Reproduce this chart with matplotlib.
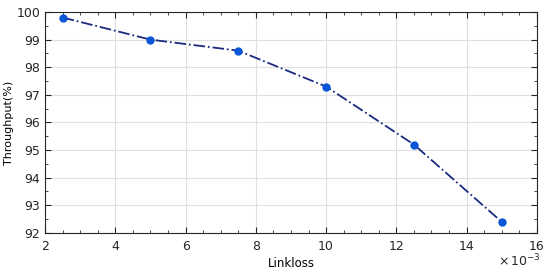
import matplotlib.pyplot as plt
from matplotlib.ticker import AutoMinorLocator

linkloss = [2.5, 5, 7.5, 10, 12.5, 15]  # x 10^-3
throughput = [99.8, 99.0, 98.6, 97.3, 95.2, 92.4]

fig = plt.figure(figsize=(5.5, 2.73), dpi=100)
ax = fig.add_axes([0.082, 0.147, 0.894, 0.809])

ax.plot(linkloss, throughput, linestyle='-.', color='#1a2a80', linewidth=1.3,
        marker='o', markersize=5, markerfacecolor='#0a55d8', markeredgecolor='#0a55d8')

ax.set_xlim(2, 16)
ax.set_ylim(92, 100)
ax.set_xticks([2, 4, 6, 8, 10, 12, 14, 16])
ax.set_yticks(range(92, 101))
ax.xaxis.set_minor_locator(AutoMinorLocator(4))
ax.yaxis.set_minor_locator(AutoMinorLocator(2))
ax.grid(True, which='major', color='#e0e0e0', linewidth=0.8)
ax.set_axisbelow(True)
ax.tick_params(which='both', direction='in', top=True, right=True, labelsize=9, colors='#262626')
ax.tick_params(which='major', length=4)
ax.tick_params(axis='x', which='major', pad=5)
ax.tick_params(which='minor', length=2)
for s in ax.spines.values():
    s.set_color('#262626')
    s.set_linewidth(0.8)

ax.set_xlabel('Linkloss', fontsize=8.5, labelpad=3)
ax.set_ylabel('Throughput(%)', fontsize=8)
ax.yaxis.set_label_coords(-0.063, 0.5)
fig.text(0.905, 0.025, r'$\times\,10^{-3}$', fontsize=9, color='#262626')

fig.savefig('out.png', dpi=100)
